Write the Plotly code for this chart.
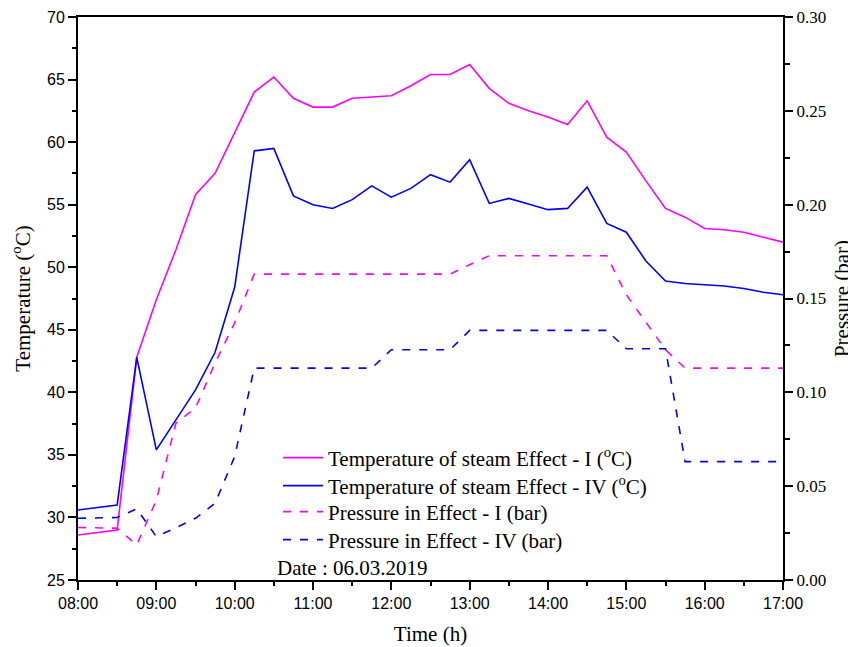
import plotly.graph_objects as go

times = ["08:00", "08:30", "08:45", "09:00", "09:15", "09:30", "09:45", "10:00",
         "10:15", "10:30", "10:45", "11:00", "11:15", "11:30", "11:45", "12:00",
         "12:15", "12:30", "12:45", "13:00", "13:15", "13:30", "13:45", "14:00",
         "14:15", "14:30", "14:45", "15:00", "15:15", "15:30", "15:45", "16:00",
         "16:15", "16:30", "16:45", "17:00"]

temp_I = [28.6, 29.0, 42.8, 47.4, 51.4, 55.8, 57.5, 60.7, 64.0, 65.2, 63.5, 62.8,
          62.8, 63.5, 63.6, 63.7, 64.5, 65.4, 65.4, 66.2, 64.3, 63.1, 62.5, 62.0,
          61.4, 63.3, 60.4, 59.2, 56.9, 54.7, 54.0, 53.1, 53.0, 52.8, 52.4, 52.0]

temp_IV = [30.6, 31.0, 42.8, 35.4, 37.8, 40.2, 43.2, 48.4, 59.3, 59.5, 55.7, 55.0,
           54.7, 55.4, 56.5, 55.6, 56.3, 57.4, 56.8, 58.6, 55.1, 55.5, 55.05, 54.6,
           54.7, 56.4, 53.5, 52.8, 50.5, 48.9, 48.7, 48.6, 48.5, 48.3, 48.0, 47.8]

pres_I = [0.0280, 0.0276, 0.0187, 0.0425, 0.0836, 0.0916, 0.1156, 0.1370,
          0.1630, 0.1630, 0.1630, 0.1630, 0.1630, 0.1630, 0.1630, 0.1630,
          0.1630, 0.1630, 0.1630, 0.1680, 0.1728, 0.1728, 0.1728, 0.1728,
          0.1728, 0.1728, 0.1728, 0.1520, 0.1376, 0.1227, 0.1129, 0.1129,
          0.1129, 0.1129, 0.1129, 0.1129]

pres_IV = [0.0329, 0.0333, 0.0379, 0.0231, 0.0278, 0.0329, 0.0409, 0.0658,
           0.1129, 0.1129, 0.1129, 0.1129, 0.1129, 0.1129, 0.1129, 0.1227,
           0.1227, 0.1227, 0.1227, 0.1330, 0.1330, 0.1330, 0.1330, 0.1330,
           0.1330, 0.1330, 0.1330, 0.1232, 0.1232, 0.1232, 0.0631, 0.0631,
           0.0631, 0.0631, 0.0631, 0.0631]

hour_ticks = ["08:00", "09:00", "10:00", "11:00", "12:00", "13:00", "14:00",
              "15:00", "16:00", "17:00"]
pressure_ticks = [0.00, 0.05, 0.10, 0.15, 0.20, 0.25, 0.30]
pressure_minor = [0.025, 0.075, 0.125, 0.175, 0.225, 0.275]


def to_hours(s):
    h, m = s.split(":")
    return int(h) + int(m) / 60.0


x = [to_hours(t) for t in times]
tick_x = [to_hours(t) for t in hour_ticks]

SERIF = "Liberation Serif, Times New Roman, serif"
SANS = "Liberation Sans, Arial, sans-serif"
MAG = "#FF00FF"
BLU = "#0000FF"
DASH = "8px,9px"

fig = go.Figure()
fig.add_trace(go.Scatter(x=x, y=temp_I, mode="lines", name="Temperature of steam Effect - I (<sup>o</sup>C)",
                         line=dict(color=MAG, width=1.6), legend="legend"))
fig.add_trace(go.Scatter(x=x, y=temp_IV, mode="lines", name="Temperature of steam Effect - IV (<sup>o</sup>C)",
                         line=dict(color=BLU, width=1.6), legend="legend2"))
fig.add_trace(go.Scatter(x=x, y=pres_I, mode="lines", name="Pressure in Effect - I (bar)",
                         line=dict(color=MAG, width=1.6, dash=DASH), yaxis="y2", legend="legend3"))
fig.add_trace(go.Scatter(x=x, y=pres_IV, mode="lines", name="Pressure in Effect - IV (bar)",
                         line=dict(color=BLU, width=1.6, dash=DASH), yaxis="y2", legend="legend4"))


def leg(yc):
    return dict(x=0.2837, y=yc, xanchor="left", yanchor="middle",
                bgcolor="rgba(0,0,0,0)", font=dict(family=SERIF, size=21, color="black"),
                itemwidth=40, borderwidth=0)


fig.update_layout(
    width=848, height=639,
    margin=dict(l=70, r=73, t=9, b=67, autoexpand=False),
    plot_bgcolor="white", paper_bgcolor="white",
    showlegend=True,
    legend=leg(0.2167),
    legend2=leg(0.1670),
    legend3=leg(0.1208),
    legend4=leg(0.0711),
    xaxis=dict(range=[8, 17], tickvals=tick_x, ticktext=hour_ticks, automargin=False,
               ticks="outside", ticklen=8, tickwidth=1.5, tickcolor="black",
               showline=True, linewidth=2, linecolor="black", mirror=True,
               showgrid=False, zeroline=False, ticklabeloverflow="allow",
               tickfont=dict(family=SANS, size=16, color="black"),
               minor=dict(tickvals=[8.5 + i for i in range(9)], ticks="outside",
                          ticklen=4, tickwidth=1.5, tickcolor="black", showgrid=False),
               title=dict(text="Time (h)", font=dict(family=SERIF, size=21, color="black"),
                          standoff=15)),
    yaxis=dict(range=[25, 70], dtick=5, tick0=25, automargin=False,
               ticks="outside", ticklen=8, tickwidth=1.5, tickcolor="black",
               showline=True, linewidth=2, linecolor="black",
               showgrid=False, zeroline=False, ticklabeloverflow="allow",
               tickfont=dict(family=SANS, size=16, color="black"),
               minor=dict(dtick=2.5, tick0=25, ticks="outside", ticklen=4,
                          tickwidth=1.5, tickcolor="black", showgrid=False),
               title=dict(text="Temperature (<sup>o</sup>C)",
                          font=dict(family=SERIF, size=21, color="black"), standoff=12)),
    yaxis2=dict(range=[0, 0.30], tickvals=pressure_ticks, tickformat=".2f", automargin=False,
                overlaying="y", side="right",
                ticks="outside", ticklen=8, tickwidth=1.5, tickcolor="black",
                showline=True, linewidth=2, linecolor="black",
                showgrid=False, zeroline=False, ticklabeloverflow="allow",
                tickfont=dict(family=SERIF, size=17, color="black"),
                minor=dict(tickvals=pressure_minor, ticks="outside", ticklen=5,
                           tickwidth=1.5, tickcolor="black", showgrid=False),
                title=dict(text="Pressure (bar)",
                           font=dict(family=SERIF, size=21, color="black"), standoff=9)),
    annotations=[dict(text="Date : 06.03.2019", x=0.2794, y=0.0213, xref="paper", yref="paper",
                      xanchor="left", yanchor="middle", showarrow=False,
                      font=dict(family=SERIF, size=21, color="black"))],
)

fig.write_html("out.html")
